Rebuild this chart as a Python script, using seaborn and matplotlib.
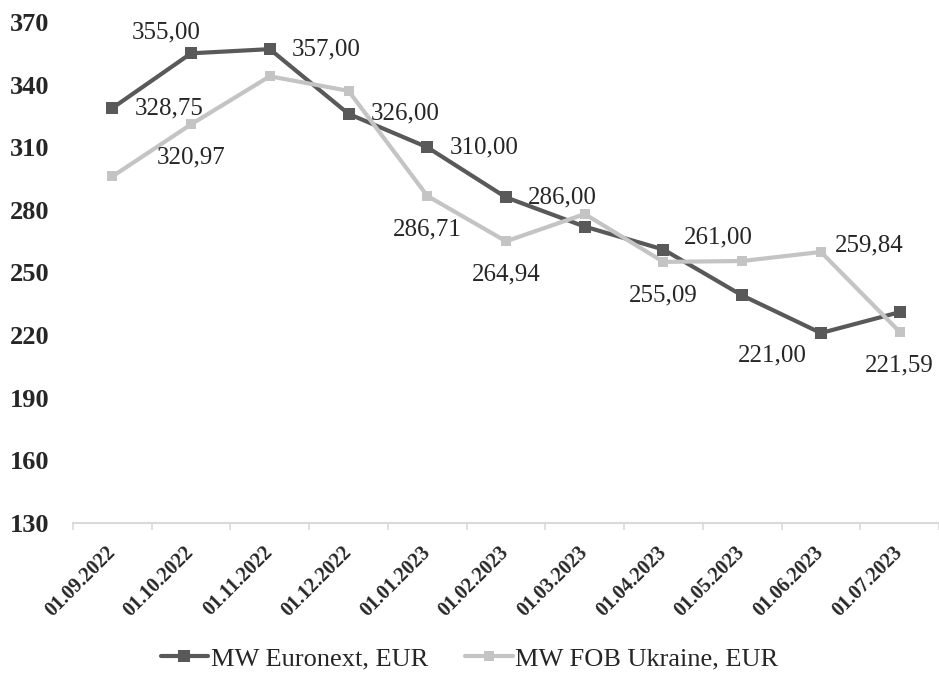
import numpy as np
import pandas as pd
import seaborn as sns
import matplotlib.pyplot as plt

# values (EUR/t)
dates = ["01.09.2022", "01.10.2022", "01.11.2022", "01.12.2022", "01.01.2023",
         "01.02.2023", "01.03.2023", "01.04.2023", "01.05.2023", "01.06.2023",
         "01.07.2023"]
euronext = [328.75, 355.00, 357.00, 326.00, 310.00, 286.00, 272.0, 261.00, 239.0, 221.00, 231.0]
fob_ukraine = [296.0, 320.97, 344.0, 337.0, 286.71, 264.94, 278.0, 255.09, 255.5, 259.84, 221.59]

name_euronext = "MW Euronext, EUR"
name_fob = "MW FOB Ukraine, EUR"

# which points carry a value label
euronext_labeled = [0, 1, 2, 3, 4, 5, 7, 9]
fob_labeled = [1, 4, 5, 7, 9, 10]

sns.set_theme(style="white")
plt.rcParams["font.family"] = ["Liberation Serif", "DejaVu Serif"]

df = pd.DataFrame({
    "date": dates * 2,
    "value": euronext + fob_ukraine,
    "series": [name_euronext] * len(dates) + [name_fob] * len(dates),
})

dark = "#595959"
light = "#c4c4c4"

fig = plt.figure(figsize=(9.39, 6.75), dpi=100)
ax = fig.add_axes([0.0777, 0.2252, 0.9223, 0.7422])

sns.lineplot(data=df[df.series == name_euronext], x="date", y="value", sort=False,
             color=dark, linewidth=3, marker="s", markersize=8, markeredgewidth=0,
             label=name_euronext, ax=ax)
sns.lineplot(data=df[df.series == name_fob], x="date", y="value", sort=False,
             color=light, linewidth=3, marker="s", markersize=7, markeredgewidth=0,
             label=name_fob, ax=ax)

# value labels
def fmt(v):
    return f"{v:.2f}".replace(".", ",")

right = ((16, 0), "left")
below = ((0, -24), "center")
dark_pos = {0: right, 1: ((-18, 15), "center"), 2: right, 3: right, 4: right,
            5: right, 7: ((15, 9), "left"), 9: ((-35, -16), "center")}
light_pos = {1: below, 4: below, 5: below, 7: below, 9: ((10, 5), "left"), 10: below}

for i in euronext_labeled:
    off, ha = dark_pos[i]
    ax.annotate(fmt(euronext[i]), xy=(i, euronext[i]), xytext=off,
                textcoords="offset points", ha=ha, va="center", fontsize=18, color="#262626")
for i in fob_labeled:
    off, ha = light_pos[i]
    ax.annotate(fmt(fob_ukraine[i]), xy=(i, fob_ukraine[i]), xytext=off,
                textcoords="offset points", ha=ha, va="center", fontsize=18, color="#262626")

ax.set_xlim(-0.5, len(dates) - 0.5)
ax.set_ylim(130, 370)
ax.set_yticks(range(130, 371, 30))
ax.set_xticks(range(len(dates)))
ax.set_xticklabels(dates, rotation=45, ha="right", va="center",
                   rotation_mode="anchor", fontsize=14.5, fontweight="bold")
ax.set_xticks(np.arange(-0.5, len(dates), 1), minor=True)
for lab in ax.get_yticklabels():
    lab.set_fontweight("bold")
    lab.set_fontsize(19)

ax.tick_params(axis="x", which="major", length=0, pad=19)
ax.tick_params(axis="x", which="minor", length=5, color="#d9d9d9", width=1.2, bottom=True)
ax.tick_params(axis="y", length=0, pad=17)
ax.set_xlabel("")
ax.set_ylabel("")

for s in ["left", "top", "right"]:
    ax.spines[s].set_visible(False)
ax.spines["bottom"].set_color("#d9d9d9")
ax.spines["bottom"].set_linewidth(1.5)

handles, labels = ax.get_legend_handles_labels()
ax.get_legend().remove()
leg = fig.legend(handles, labels, loc="center", bbox_to_anchor=(0.5, 0.024), ncol=2,
                 frameon=False, fontsize=19, handlelength=1.8, handletextpad=0.1,
                 columnspacing=1.4)
for t in leg.get_texts():
    t.set_fontfamily(["Liberation Serif", "DejaVu Serif"])
    t.set_color("#262626")

fig.savefig("out.png", dpi=100)
